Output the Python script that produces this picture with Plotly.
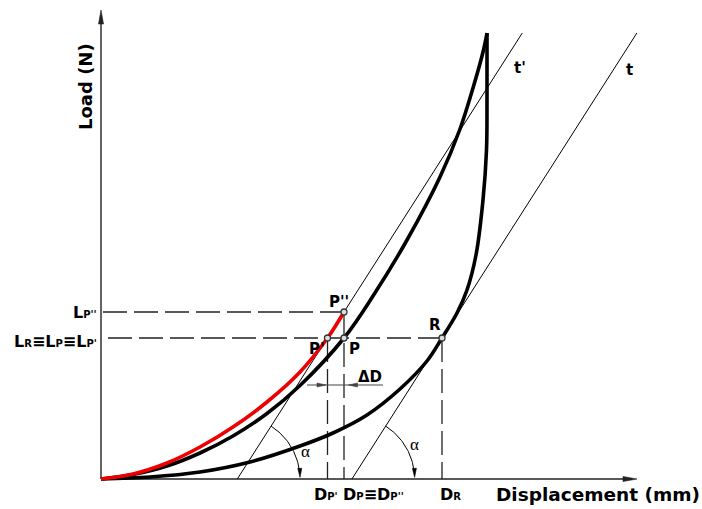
import numpy as np
import plotly.graph_objects as go

# Loading branch (black, upper curve) up to the peak
load_disp = [0.00, 0.64, 1.32, 1.98, 2.64, 3.32, 3.98, 4.86, 5.44, 6.12, 6.78, 7.18, 7.44, 7.64, 7.72]
load_force = [0.00, 0.09, 0.26, 0.52, 0.86, 1.31, 1.87, 2.82, 3.66, 4.78, 6.04, 7.00, 7.82, 8.54, 8.92]

# Unloading branch (black, lower curve) from the origin back up to the peak
unload_disp = [0.00, 0.98, 1.98, 2.98, 3.98, 4.64, 5.32, 5.98, 6.52, 6.82, 7.12, 7.32, 7.50, 7.64, 7.71, 7.72, 7.72]
unload_force = [0.00, 0.04, 0.14, 0.34, 0.66, 0.92, 1.28, 1.80, 2.36, 2.82, 3.32, 3.78, 4.48, 5.58, 6.58, 7.58, 8.92]

# Reloading branch (red)
reload_disp = [0.00, 0.64, 1.32, 1.98, 2.64, 3.32, 3.98, 4.53, 4.86]
reload_force = [0.00, 0.10, 0.32, 0.64, 1.04, 1.54, 2.14, 2.82, 3.34]

# Characteristic points
point_names = ["P''", "P'", "P", "R"]
point_disp = [4.86, 4.53, 4.86, 6.82]
point_force = [3.34, 2.82, 2.82, 2.82]

# Slope of the tangents t and t' (parallel)
tangent_slope = 1.565
tangent_top = 8.92

# Axis extents
disp_axis_end = 10.72
load_axis_end = 9.38

pPP = (point_disp[0], point_force[0])
pP1 = (point_disp[1], point_force[1])
pP = (point_disp[2], point_force[2])
pR = (point_disp[3], point_force[3])

PX = 0.02  # data units per screen pixel (same on both axes)

fig = go.Figure()
shapes = []
ann = []

dash_style = dict(color="#222", width=1.3, dash="24px,7px")


def line(xs, ys, **style):
    fig.add_trace(go.Scatter(x=xs, y=ys, mode="lines", line=style,
                             hoverinfo="skip", showlegend=False))


def head(tip, direction, length_px, width_px, color="#222"):
    ux, uy = direction
    n = np.hypot(ux, uy)
    ux, uy = ux / n, uy / n
    bx, by = tip[0] - ux * length_px * PX, tip[1] - uy * length_px * PX
    px_, py_ = -uy * width_px * PX / 2, ux * width_px * PX / 2
    path = "M {:.4f},{:.4f} L {:.4f},{:.4f} L {:.4f},{:.4f} Z".format(
        tip[0], tip[1], bx + px_, by + py_, bx - px_, by - py_)
    shapes.append(dict(type="path", path=path, xref="x", yref="y",
                       fillcolor=color, line=dict(color=color, width=0.6), layer="above"))


# Reference lines to the axes
line([pPP[0], 0], [pPP[1], pPP[1]], **dash_style)
line([pR[0], 0], [pR[1], pR[1]], **dash_style)
line([pP1[0], pP1[0]], [pP1[1], 0], **dash_style)
line([pPP[0], pPP[0]], [pPP[1], 0], **dash_style)
line([pR[0], pR[0]], [pR[1], 0], **dash_style)

# Axes
line([0, 0], [0, load_axis_end - 0.1], color="#222", width=1.4)
line([0, disp_axis_end - 0.1], [0, 0], color="#222", width=1.4)
head((0, load_axis_end), (0, 1), 14, 5)
head((disp_axis_end, 0), (1, 0), 14, 5)

# Tangent lines t (through R) and t' (through P'')
x0_t = pR[0] - pR[1] / tangent_slope
x0_tp = pPP[0] - pPP[1] / tangent_slope
for x0 in (x0_t, x0_tp):
    line([x0, x0 + tangent_top / tangent_slope], [0, tangent_top], color="black", width=1)

# Angle arcs between the tangents and the displacement axis
alpha_deg = np.degrees(np.arctan(tangent_slope))
arc_r = 1.255
for cx in (x0_tp, x0_t):
    th = np.radians(np.linspace(alpha_deg, 6.0, 40))
    line(cx + arc_r * np.cos(th), arc_r * np.sin(th), color="black", width=1)
    tip_a = np.radians(1.5)
    head((cx + arc_r * np.cos(tip_a), arc_r * np.sin(tip_a)),
         (np.sin(tip_a), -np.cos(tip_a)), 9, 4, color="black")

# Delta D dimension line
dD_y = 1.88
line([4.12, 5.64], [dD_y, dD_y], color="#444", width=1.2)
head((4.50, dD_y), (1, 0), 9, 4, color="#444")
head((4.95, dD_y), (-1, 0), 9, 4, color="#444")

# Curves
for xs, ys, col in ((unload_disp, unload_force, "black"),
                    (load_disp, load_force, "black"),
                    (reload_disp, reload_force, "#ee0000")):
    line(xs, ys, color=col, width=3.6, shape="spline", smoothing=1)

# Point markers
fig.add_trace(go.Scatter(x=point_disp, y=point_force, mode="markers",
                         marker=dict(symbol="circle", size=6, color="#ddd",
                                     line=dict(color="#333", width=1.3)),
                         hoverinfo="skip", showlegend=False))

bold = dict(family="DejaVu Sans", size=15, color="black", weight="bold")


def label(x, y, text, font=bold, xanchor="center", angle=0):
    ann.append(dict(x=x, y=y, xref="x", yref="y", text=text, showarrow=False,
                    font=font, xanchor=xanchor, yanchor="middle", textangle=angle))


sub = "<span style='font-size:10px'>%s</span>"

label(4.76, 3.55, "P''")
label(4.32, 2.60, "P'")
label(5.06, 2.60, "P")
label(6.67, 3.08, "R")
label(8.38, 8.22, "t'")
label(10.57, 8.18, "t")
label(5.38, 2.04, "ΔD")

lfont = dict(family="DejaVu Sans", size=16, color="black", weight="bold")
label(-0.04, 3.34, "L" + sub % "P''", font=lfont, xanchor="right")
label(-0.04, 2.76, "L" + sub % "R" + "≡L" + sub % "P" + "≡L" + sub % "P'", font=lfont, xanchor="right")

label(4.50, -0.30, "D" + sub % "P'", font=lfont)
label(5.44, -0.30, "D" + sub % "P" + "≡D" + sub % "P''", font=lfont)
label(6.99, -0.30, "D" + sub % "R", font=lfont)

afont = dict(family="Liberation Serif", size=17, color="black")
label(4.08, 0.56, "α", font=afont)
label(6.27, 0.70, "α", font=afont)

label(9.94, -0.30, "Displacement (mm)",
      font=dict(family="DejaVu Sans", size=18.5, color="black", weight="bold"))
label(-0.32, 7.84, "Load (N)",
      font=dict(family="DejaVu Sans", size=18, color="black", weight="bold"), angle=-90)

fig.update_layout(
    width=702, height=509,
    margin=dict(l=0, r=0, t=0, b=0),
    paper_bgcolor="white", plot_bgcolor="white",
    xaxis=dict(range=[-2.02, 12.02], visible=False, fixedrange=True),
    yaxis=dict(range=[-0.6, 9.58], visible=False, fixedrange=True),
    annotations=ann,
    shapes=shapes,
    showlegend=False,
)

fig.write_html("out.html")
